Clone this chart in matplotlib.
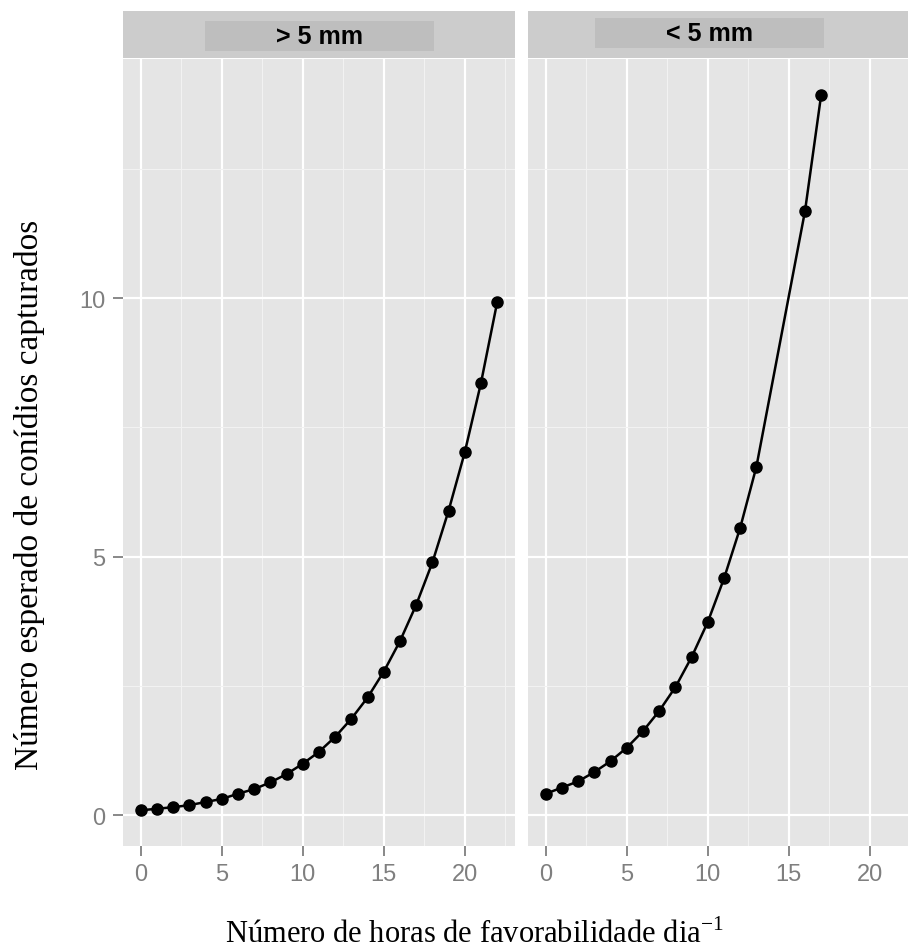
import matplotlib
matplotlib.use('Agg')
import matplotlib.pyplot as plt
from matplotlib.patches import Rectangle

plt.rcParams['mathtext.fontset'] = 'custom'
plt.rcParams['mathtext.rm'] = 'Liberation Serif'
plt.rcParams['font.family'] = ['Liberation Sans', 'DejaVu Sans']

# panel labels
panels = ['> 5 mm', '< 5 mm']

# > 5 mm
hours_big = [0, 1, 2, 3, 4, 5, 6, 7, 8, 9, 10, 11, 12, 13, 14, 15, 16, 17, 18, 19, 20, 21, 22]
conid_big = [0.10, 0.13, 0.16, 0.20, 0.26, 0.32, 0.42, 0.51, 0.64, 0.80, 1.00, 1.23, 1.52,
             1.87, 2.28, 2.78, 3.37, 4.07, 4.89, 5.89, 7.02, 8.36, 9.92]

# < 5 mm
hours_small = [0, 1, 2, 3, 4, 5, 6, 7, 8, 9, 10, 11, 12, 13, 16, 17]
conid_small = [0.42, 0.54, 0.66, 0.84, 1.05, 1.31, 1.63, 2.02, 2.48, 3.06, 3.74, 4.58, 5.56,
               6.74, 11.68, 13.93]

xticks = [0, 5, 10, 15, 20]
yticks = [0, 5, 10]

W, H = 908, 953
fig = plt.figure(figsize=(W / 100, H / 100), dpi=100)

# pixel boxes: (left, top, right, bottom)
panel_px = [(123, 60, 515, 847), (528, 60, 920, 847)]
strip_px = [(123, 12, 515, 59), (528, 12, 920, 59)]
box_px = [(205, 22, 434, 52), (595, 19, 824, 49)]

def frac(box):
    l, t, r, b = box
    return [l / W, 1 - b / H, (r - l) / W, (b - t) / H]

data = [(hours_big, conid_big), (hours_small, conid_small)]

for i in range(2):
    ax = fig.add_axes(frac(panel_px[i]))
    ax.set_facecolor('#E5E5E5')
    xs, ys = data[i]
    ax.plot(xs, ys, color='black', lw=1.8, marker='o', ms=8, zorder=3)
    ax.set_xlim(-1.1, 23.1)
    ax.set_ylim(-0.59, 14.62)
    ax.set_xticks(xticks)
    ax.set_yticks(yticks)
    ax.set_xticks([2.5, 7.5, 12.5, 17.5, 22.5], minor=True)
    ax.set_yticks([2.5, 7.5, 12.5], minor=True)
    ax.grid(which='major', color='white', lw=1.6)
    ax.grid(which='minor', color='#F2F2F2', lw=0.8)
    ax.set_axisbelow(True)
    for s in ax.spines.values():
        s.set_visible(False)
    ax.tick_params(which='major', length=7.5, width=1.3, color='#7F7F7F',
                   labelcolor='#7F7F7F', labelsize=17, pad=5)
    ax.tick_params(which='minor', length=0)
    if i == 1:
        ax.tick_params(axis='y', which='both', left=False, labelleft=False)

    sax = fig.add_axes(frac(strip_px[i]))
    sax.set_facecolor('#CCCCCC')
    sax.set_xticks([])
    sax.set_yticks([])
    for s in sax.spines.values():
        s.set_visible(False)
    sl, st, sr, sb = strip_px[i]
    bl, bt, br, bb = box_px[i]
    x0 = (bl - sl) / (sr - sl)
    x1 = (br - sl) / (sr - sl)
    y0 = (sb - bb) / (sb - st)
    y1 = (sb - bt) / (sb - st)
    sax.add_patch(Rectangle((x0, y0), x1 - x0, y1 - y0, transform=sax.transAxes,
                            facecolor='#BEBEBE', edgecolor='none'))
    sax.text((x0 + x1) / 2, (y0 + y1) / 2, panels[i], transform=sax.transAxes,
             ha='center', va='center', fontsize=18, fontweight='bold', color='black')

fig.text(225 / W, 1 - 943 / H, 'Número de horas de favorabilidade dia$^{\\mathrm{-1}}$',
         ha='left', va='baseline', fontsize=22, family='Liberation Serif')
fig.text(30 / W, 1 - 495 / H, 'Número esperado de conídios capturados',
         ha='center', va='center', rotation=90, fontsize=24, family='Liberation Serif')

fig.savefig('out.png', dpi=100)
